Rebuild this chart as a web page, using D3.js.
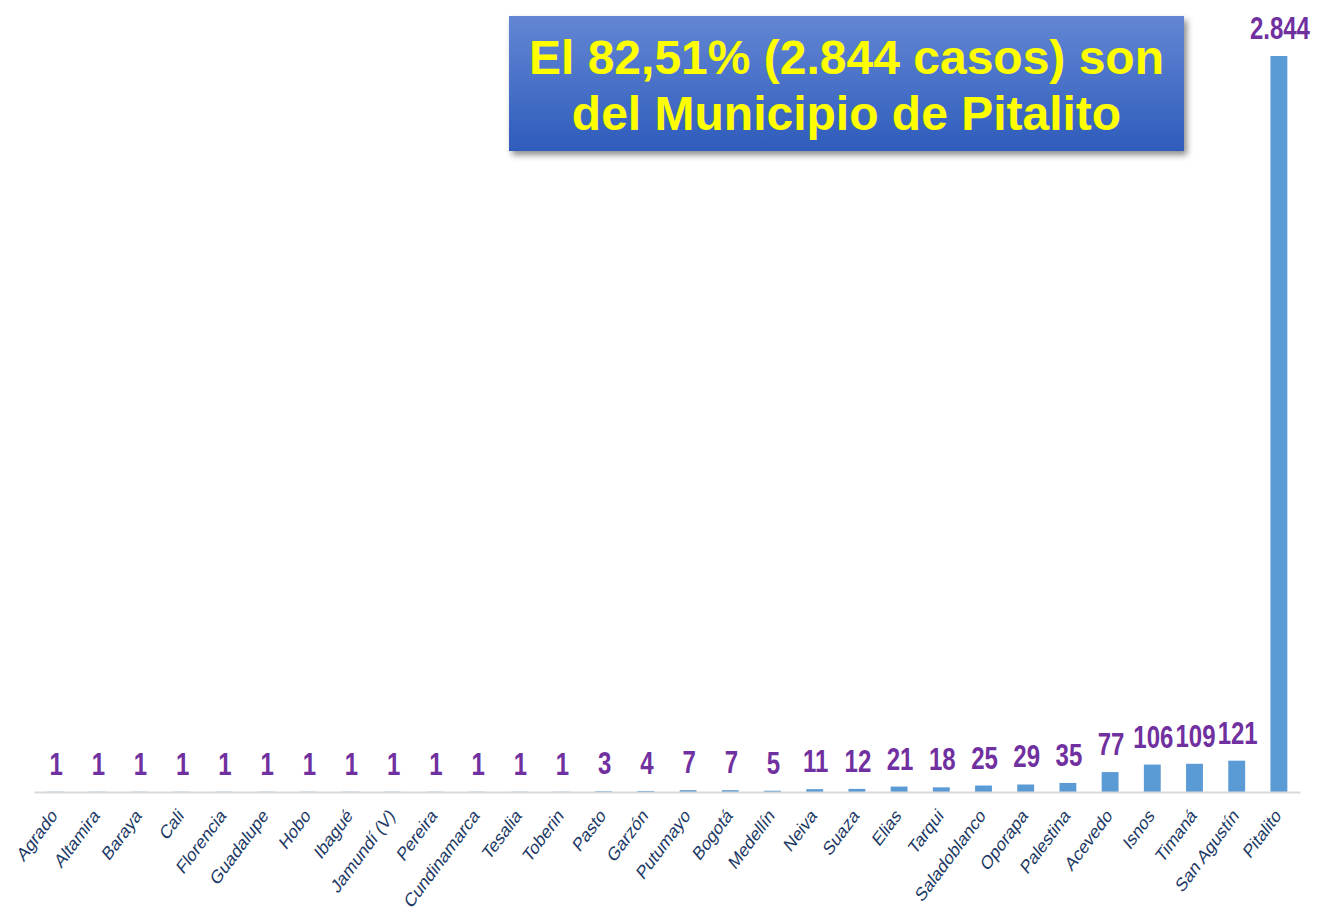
<!DOCTYPE html>
<html>
<head>
<meta charset="utf-8">
<script src="https://cdn.jsdelivr.net/npm/d3@7"></script>
<style>
  html, body { margin: 0; padding: 0; background: #ffffff; }
  svg { display: block; }
</style>
</head>
<body>
<svg id="chart" width="1319" height="915"></svg>
<script>
const categories = ["Agrado","Altamira","Baraya","Cali","Florencia","Guadalupe","Hobo","Ibagué","Jamundí (V)","Pereira","Cundinamarca","Tesalia","Toberin","Pasto","Garzón","Putumayo","Bogotá","Medellín","Neiva","Suaza","Elias","Tarqui","Saladoblanco","Oporapa","Palestina","Acevedo","Isnos","Timaná","San Agustín","Pitalito"];
const values = [1,1,1,1,1,1,1,1,1,1,1,1,1,3,4,7,7,5,11,12,21,18,25,29,35,77,106,109,121,2844];
const valueLabels = ["1","1","1","1","1","1","1","1","1","1","1","1","1","3","4","7","7","5","11","12","21","18","25","29","35","77","106","109","121","2.844"];
const calloutLines = ["El 82,51% (2.844 casos) son", "del Municipio de Pitalito"];

const data = categories.map((c, i) => ({ cat: c, value: values[i], label: valueLabels[i] }));
const svg = d3.select("#chart");

const x = d3.scaleBand().domain(categories).range([34, 1300]).paddingInner(0.6).paddingOuter(0.3);
const y = d3.scaleLinear().domain([0, 2844]).range([792, 56]);

// Bars
svg.append("g").selectAll("rect").data(data).join("rect")
  .attr("x", d => x(d.cat))
  .attr("y", d => y(d.value))
  .attr("width", x.bandwidth())
  .attr("height", d => y(0) - y(d.value))
  .attr("fill", "#5B9BD5");

// Axis
const axis = svg.append("g").attr("transform", `translate(0,${y(0)})`)
  .call(d3.axisBottom(x).tickSize(0).tickSizeOuter(0));
axis.select(".domain").attr("stroke", "#d9d9d9").attr("stroke-width", 2);
axis.selectAll(".tick text")
  .attr("font-family", "Arial, 'Liberation Sans', sans-serif")
  .attr("font-size", 19.5)
  .attr("fill", "#203864")
  .attr("text-anchor", "end")
  .attr("x", 0).attr("y", 0).attr("dy", "0.35em")
  .attr("transform", "translate(-1,20) scale(0.8,1) rotate(-47)");

// Value labels
svg.append("g").selectAll("text").data(data).join("text")
  .attr("transform", d => `translate(${x(d.cat) + x.bandwidth() / 2 + 1},${y(d.value) - 17}) scale(0.75,1)`)
  .attr("text-anchor", "middle")
  .attr("font-family", "Arial, 'Liberation Sans', sans-serif")
  .attr("font-weight", "bold")
  .attr("font-size", 32)
  .attr("fill", "#7030A0")
  .text(d => d.label);

// Callout box
const defs = svg.append("defs");
const grad = defs.append("linearGradient").attr("id", "boxGrad").attr("x1", 0).attr("y1", 0).attr("x2", 0).attr("y2", 1);
grad.append("stop").attr("offset", "0%").attr("stop-color", "#6386D4");
grad.append("stop").attr("offset", "100%").attr("stop-color", "#2E5CBB");
const filt = defs.append("filter").attr("id", "shadow").attr("x", "-10%").attr("y", "-10%").attr("width", "130%").attr("height", "140%");
filt.append("feDropShadow").attr("dx", 3).attr("dy", 4).attr("stdDeviation", 3).attr("flood-color", "#000").attr("flood-opacity", 0.45);

svg.append("rect")
  .attr("x", 509).attr("y", 16).attr("width", 675).attr("height", 135)
  .attr("fill", "url(#boxGrad)")
  .attr("filter", "url(#shadow)");

svg.append("g").selectAll("text").data(calloutLines).join("text")
  .attr("x", 846.5)
  .attr("y", (d, i) => 74 + i * 56)
  .attr("text-anchor", "middle")
  .attr("font-family", "Arial, 'Liberation Sans', sans-serif")
  .attr("font-weight", "bold")
  .attr("font-size", 48)
  .attr("fill", "#FFFF00")
  .text(d => d);
</script>
</body>
</html>
